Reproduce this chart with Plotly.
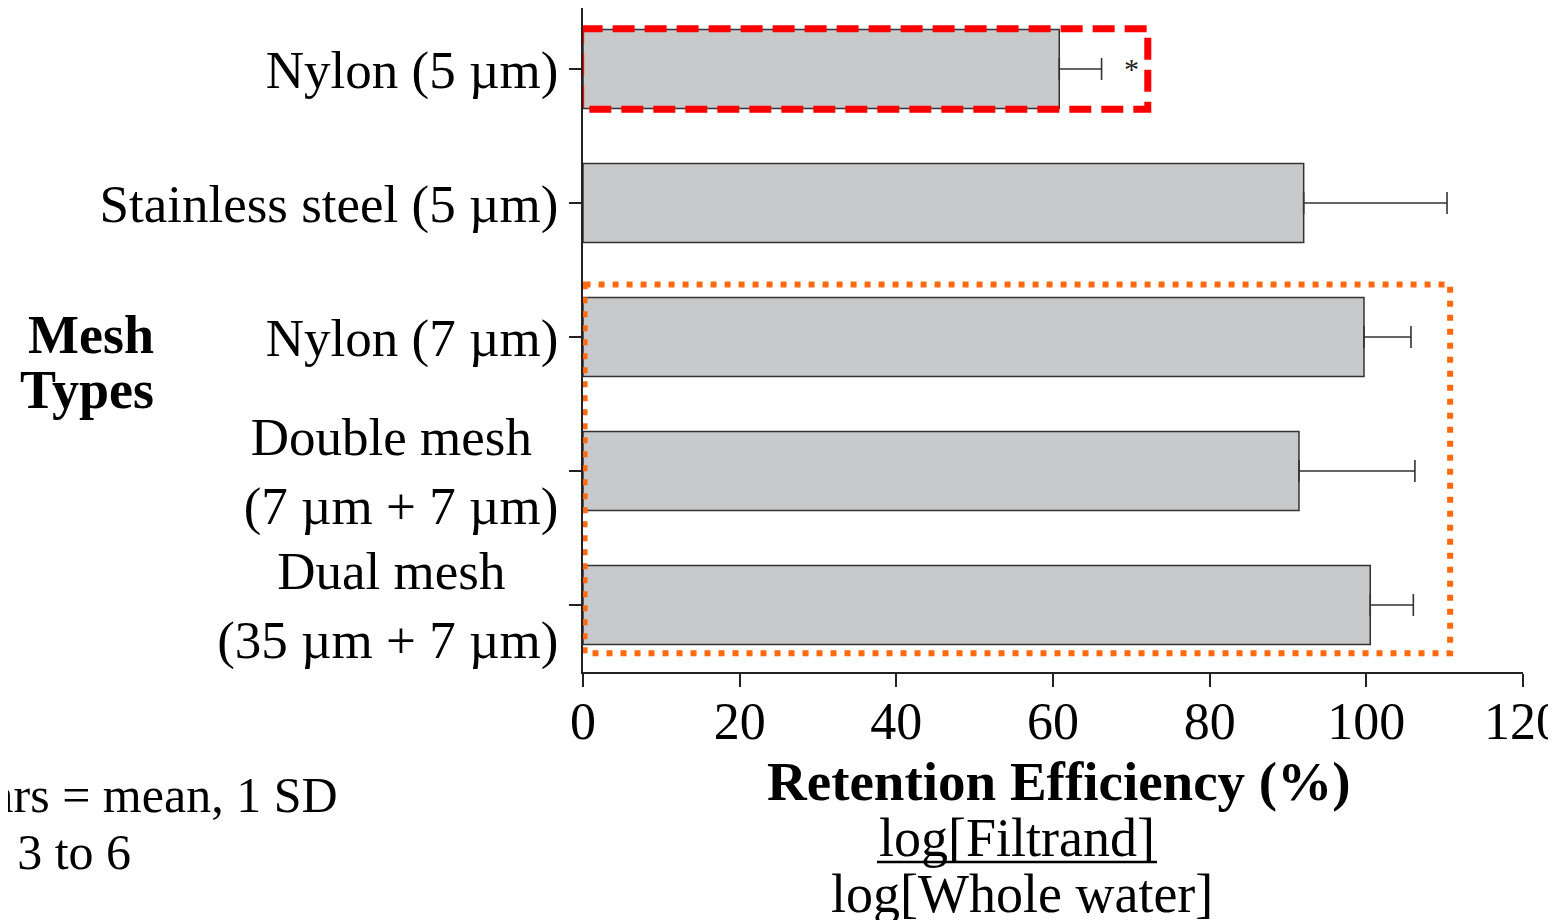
import plotly.graph_objects as go

categories = ["Nylon (5 µm)", "Stainless steel (5 µm)", "Nylon (7 µm)",
              "Double mesh\u00a0\u00a0<br>(7 µm + 7 µm)",
              "Dual mesh\u00a0\u00a0\u00a0\u00a0<br>(35 µm + 7 µm)"]
means = [60.8, 92.0, 99.7, 91.4, 100.5]
sds = [5.4, 18.3, 6.0, 14.8, 5.5]
x_ticks = [0, 20, 40, 60, 80, 100, 120]

positions = list(range(len(categories)))
FONT = "Liberation Serif"
DARK = "#222222"

# page offset of the figure (default body margin) and plot area in page pixels
OFF = 8
L, R_EDGE, TOP, BOT = 583, 1523, 8, 672


def px(page_x):
    return (page_x - L) / (R_EDGE - L)


def py(page_y):
    return (BOT - page_y) / (BOT - TOP)


fig = go.Figure()
fig.add_trace(go.Bar(
    x=means, y=positions, orientation="h", width=0.59,
    marker=dict(color="#c8c9cb", line=dict(color="#333333", width=1.5)),
    error_x=dict(type="data", array=sds, arrayminus=[0] * len(sds), symmetric=False,
                 color="#333333", thickness=1.6, width=11),
    showlegend=False, hoverinfo="skip",
))

# highlight boxes
fig.add_shape(type="rect", xref="x", yref="y", x0=-0.3, x1=72.1, y0=-0.3, y1=0.3,
              line=dict(color="#ff0000", width=7, dash="22px,10px"), layer="above")
fig.add_shape(type="rect", xref="x", yref="y", x0=0.2, x1=110.7, y0=1.608, y1=4.36,
              line=dict(color="#ff6a10", width=6, dash="6px,8px"), layer="above")

# significance mark
fig.add_annotation(x=70.0, y=0, xref="x", yref="y", text="*", showarrow=False,
                   font=dict(family=FONT, size=30, color=DARK))

fig.update_layout(
    width=1556 - OFF, height=920 - OFF,
    margin=dict(l=L - OFF, r=1556 - R_EDGE, t=TOP - OFF, b=920 - BOT,
                autoexpand=False),
    plot_bgcolor="white", paper_bgcolor="white",
    font=dict(family=FONT, color=DARK),
    xaxis=dict(range=[0, 120], tickvals=x_ticks, showgrid=False, zeroline=False,
               showline=True, linecolor=DARK, linewidth=2, ticks="outside",
               ticklen=13, tickwidth=1.5, tickcolor=DARK, automargin=False,
               tickfont=dict(family=FONT, size=52, color="black"),
               ticklabelstandoff=-10, ticklabeloverflow="allow"),
    yaxis=dict(range=[4.5, -0.455], tickvals=positions, ticktext=categories,
               showgrid=False, zeroline=False, showline=True, linecolor=DARK,
               linewidth=2, ticks="outside", ticklen=12, tickwidth=1.5,
               tickcolor=DARK, automargin=False,
               tickfont=dict(family=FONT, size=53, color="black")),
)

# axis titles and notes
fig.add_annotation(xref="paper", yref="paper", x=px(91), y=py(335), xanchor="center",
                   yanchor="middle", showarrow=False, text="<b>Mesh</b>",
                   font=dict(family=FONT, size=54, color="black"))
fig.add_annotation(xref="paper", yref="paper", x=px(87), y=py(390), xanchor="center",
                   yanchor="middle", showarrow=False, text="<b>Types</b>",
                   font=dict(family=FONT, size=54, color="black"))
fig.add_annotation(xref="paper", yref="paper", x=px(1058), y=py(781), xanchor="center",
                   yanchor="middle", showarrow=False,
                   text="<b>Retention Efficiency (%)</b>",
                   font=dict(family=FONT, size=55, color="black"))
fig.add_annotation(xref="paper", yref="paper", x=px(1017), y=py(838), xanchor="center",
                   yanchor="middle", showarrow=False,
                   text="log[Filtrand]",
                   font=dict(family=FONT, size=54, color="black"))
fig.add_shape(type="line", xref="paper", yref="paper", x0=px(877), x1=px(1157),
              y0=py(862), y1=py(862), line=dict(color="black", width=2.5))
fig.add_annotation(xref="paper", yref="paper", x=px(1022), y=py(894), xanchor="center",
                   yanchor="middle", showarrow=False,
                   text="log[Whole water]",
                   font=dict(family=FONT, size=54, color="black"))
fig.add_annotation(xref="paper", yref="paper", x=px(340), y=py(795),
                   xanchor="right", yanchor="middle", showarrow=False,
                   text="Bars = mean, 1 SD",
                   font=dict(family=FONT, size=50, color="black"))
fig.add_annotation(xref="paper", yref="paper", x=px(133), y=py(852),
                   xanchor="right", yanchor="middle", showarrow=False,
                   text="n = 3 to 6",
                   font=dict(family=FONT, size=50, color="black"))

fig.write_html("out.html")
